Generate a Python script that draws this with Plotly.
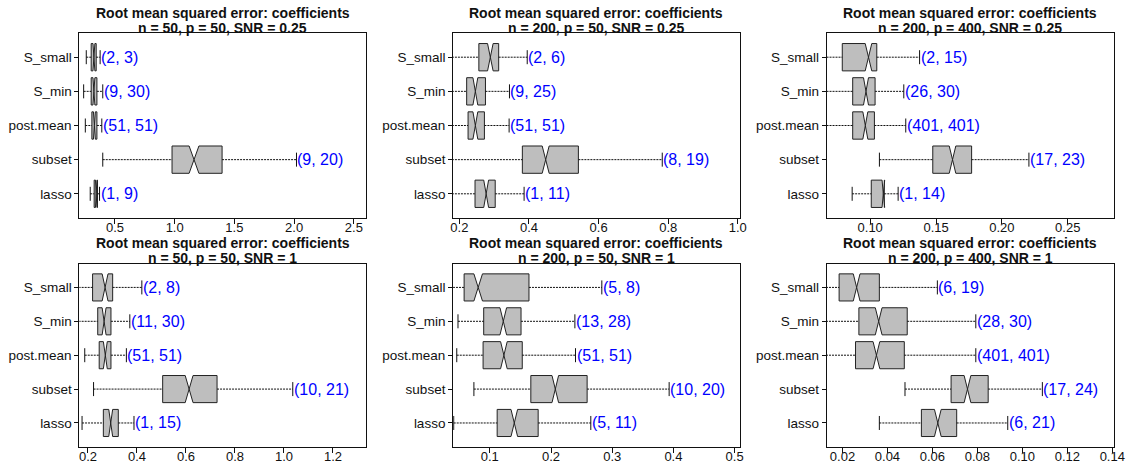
import plotly.graph_objects as go

# ---------------- data ----------------
categories = ["S_small", "S_min", "post.mean", "subset", "lasso"]   # top -> bottom

title_line1 = "Root mean squared error: coefficients"
subtitles = [
    "n = 50, p = 50, SNR = 0.25",
    "n = 200, p = 50, SNR = 0.25",
    "n = 200, p = 400, SNR = 0.25",
    "n = 50, p = 50, SNR = 1",
    "n = 200, p = 50, SNR = 1",
    "n = 200, p = 400, SNR = 1",
]

# Panel 1: n=50, p=50, SNR=0.25
p1_lower = [0.260, 0.238, 0.252, 0.398, 0.293]
p1_q1 = [0.301, 0.301, 0.307, 0.978, 0.326]
p1_median = [0.324, 0.324, 0.328, 1.162, 0.343]
p1_q3 = [0.343, 0.349, 0.349, 1.397, 0.354]
p1_upper = [0.376, 0.398, 0.390, 2.020, 0.371]
p1_notch = [0.008, 0.008, 0.008, 0.041, 0.006]
p1_labels = ["(2, 3)", "(9, 30)", "(51, 51)", "(9, 20)", "(1, 9)"]
p1_ticks = [0.5, 1.0, 1.5, 2.0, 2.5]
p1_ticklabels = ["0.5", "1.0", "1.5", "2.0", "2.5"]

# Panel 2: n=200, p=50, SNR=0.25
p2_lower = [0.170, 0.170, 0.170, 0.170, 0.170]
p2_q1 = [0.256, 0.221, 0.225, 0.381, 0.245]
p2_median = [0.289, 0.246, 0.246, 0.448, 0.277]
p2_q3 = [0.313, 0.275, 0.272, 0.542, 0.303]
p2_upper = [0.395, 0.344, 0.343, 0.783, 0.386]
p2_notch = [0.008, 0.007, 0.007, 0.010, 0.007]
p2_labels = ["(2, 6)", "(9, 25)", "(51, 51)", "(8, 19)", "(1, 11)"]
p2_ticks = [0.2, 0.4, 0.6, 0.8, 1.0]
p2_ticklabels = ["0.2", "0.4", "0.6", "0.8", "1.0"]

# Panel 3: n=200, p=400, SNR=0.25
p3_lower = [0.060, 0.060, 0.060, 0.107, 0.0863]
p3_q1 = [0.0788, 0.0867, 0.0867, 0.1475, 0.1008]
p3_median = [0.0987, 0.0968, 0.0963, 0.1625, 0.1100]
p3_q3 = [0.1050, 0.1037, 0.1032, 0.1770, 0.1107]
p3_upper = [0.1375, 0.1255, 0.1270, 0.2205, 0.1212]
p3_notch = [0.0025, 0.0019, 0.0019, 0.0025, 0.0010]
p3_labels = ["(2, 15)", "(26, 30)", "(401, 401)", "(17, 23)", "(1, 14)"]
p3_ticks = [0.10, 0.15, 0.20, 0.25]
p3_ticklabels = ["0.10", "0.15", "0.20", "0.25"]

# Panel 4: n=50, p=50, SNR=1
p4_lower = [0.150, 0.150, 0.187, 0.223, 0.176]
p4_q1 = [0.219, 0.240, 0.246, 0.505, 0.263]
p4_median = [0.270, 0.266, 0.271, 0.613, 0.293]
p4_q3 = [0.301, 0.294, 0.294, 0.727, 0.324]
p4_upper = [0.420, 0.371, 0.357, 1.036, 0.388]
p4_notch = [0.012, 0.008, 0.008, 0.016, 0.008]
p4_labels = ["(2, 8)", "(11, 30)", "(51, 51)", "(10, 21)", "(1, 15)"]
p4_ticks = [0.2, 0.4, 0.6, 0.8, 1.0, 1.2]
p4_ticklabels = ["0.2", "0.4", "0.6", "0.8", "1.0", "1.2"]

# Panel 5: n=200, p=50, SNR=1
p5_lower = [0.030, 0.048, 0.046, 0.074, 0.041]
p5_q1 = [0.058, 0.090, 0.089, 0.167, 0.112]
p5_median = [0.081, 0.122, 0.123, 0.207, 0.140]
p5_q3 = [0.164, 0.151, 0.153, 0.259, 0.179]
p5_upper = [0.283, 0.239, 0.240, 0.393, 0.265]
p5_notch = [0.0070, 0.0054, 0.0054, 0.0054, 0.0054]
p5_labels = ["(5, 8)", "(13, 28)", "(51, 51)", "(10, 20)", "(5, 11)"]
p5_ticks = [0.1, 0.2, 0.3, 0.4, 0.5]
p5_ticklabels = ["0.1", "0.2", "0.3", "0.4", "0.5"]

# Panel 6: n=200, p=400, SNR=1
p6_lower = [0.010, 0.010, 0.010, 0.0478, 0.0364]
p6_q1 = [0.0185, 0.0273, 0.0258, 0.0683, 0.0551]
p6_median = [0.0263, 0.0361, 0.0351, 0.0756, 0.0624]
p6_q3 = [0.0364, 0.0488, 0.0475, 0.0848, 0.0708]
p6_upper = [0.0622, 0.0793, 0.0793, 0.1089, 0.0935]
p6_notch = [0.0015, 0.0015, 0.0015, 0.0015, 0.0015]
p6_labels = ["(6, 19)", "(28, 30)", "(401, 401)", "(17, 24)", "(6, 21)"]
p6_ticks = [0.02, 0.04, 0.06, 0.08, 0.10, 0.12, 0.14]
p6_ticklabels = ["0.02", "0.04", "0.06", "0.08", "0.10", "0.12", "0.14"]

# ---------------- layout geometry ----------------
W, H = 1138, 464
x_ranges = [[0.202, 2.60], [0.182, 1.005], [0.067, 0.285],
            [0.165, 1.334], [0.040, 0.508], [0.013, 0.1407]]
col_px = [(77.3, 367.3), (455.7, 745.7), (834.0, 1124.7)]
row_px = [(33.3, 217.7), (263.7, 446.7)]

panels = [
    (p1_lower, p1_q1, p1_median, p1_q3, p1_upper, p1_notch, p1_labels, p1_ticks, p1_ticklabels),
    (p2_lower, p2_q1, p2_median, p2_q3, p2_upper, p2_notch, p2_labels, p2_ticks, p2_ticklabels),
    (p3_lower, p3_q1, p3_median, p3_q3, p3_upper, p3_notch, p3_labels, p3_ticks, p3_ticklabels),
    (p4_lower, p4_q1, p4_median, p4_q3, p4_upper, p4_notch, p4_labels, p4_ticks, p4_ticklabels),
    (p5_lower, p5_q1, p5_median, p5_q3, p5_upper, p5_notch, p5_labels, p5_ticks, p5_ticklabels),
    (p6_lower, p6_q1, p6_median, p6_q3, p6_upper, p6_notch, p6_labels, p6_ticks, p6_ticklabels),
]

FONT = "Liberation Sans, Arial, Helvetica, sans-serif"
fig = go.Figure()
annotations = []
layout_axes = {}

for i, (lo, q1, med, q3, up, notch, labels, ticks, ticklabels) in enumerate(panels):
    r, c = divmod(i, 3)
    n = i + 1
    xa = "x" if n == 1 else f"x{n}"
    ya = "y" if n == 1 else f"y{n}"
    xkey = "xaxis" if n == 1 else f"xaxis{n}"
    ykey = "yaxis" if n == 1 else f"yaxis{n}"

    # whiskers (dotted)
    wx, wy = [], []
    for k, cat in enumerate(categories):
        wx += [lo[k], q1[k], None, q3[k], up[k], None]
        wy += [cat, cat, None, cat, cat, None]
    fig.add_trace(go.Scatter(x=wx, y=wy, mode="lines", xaxis=xa, yaxis=ya,
                             line=dict(color="#111111", width=1, dash="2px,1px"),
                             hoverinfo="skip", showlegend=False))
    # staples
    fig.add_trace(go.Scatter(x=lo + up, y=categories + categories, mode="markers",
                             xaxis=xa, yaxis=ya,
                             marker=dict(symbol="line-ns", size=10,
                                         line=dict(color="#111111", width=1)),
                             hoverinfo="skip", showlegend=False))
    # notched boxes
    fig.add_trace(go.Box(y=categories, q1=q1, median=med, q3=q3,
                         lowerfence=q1, upperfence=q3, notchspan=notch,
                         notched=True, notchwidth=0.5, width=0.8, whiskerwidth=0,
                         orientation="h", boxpoints=False,
                         fillcolor="#bebebe", line=dict(color="#222222", width=1),
                         xaxis=xa, yaxis=ya, hoverinfo="skip", showlegend=False))

    for k, cat in enumerate(categories):
        annotations.append(dict(x=up[k], y=cat, xref=xa, yref=ya, text=labels[k],
                                showarrow=False, xanchor="left", yanchor="middle",
                                xshift=-1, font=dict(family=FONT, size=16, color="#0000ff")))

    x0, x1 = col_px[c]
    y0, y1 = row_px[r]
    layout_axes[xkey] = dict(domain=[x0 / W, x1 / W], range=x_ranges[i], anchor=ya,
                             tickmode="array", tickvals=ticks, ticktext=ticklabels,
                             ticks="outside", ticklen=5, tickcolor="#111111",
                             ticklabelstandoff=-7,
                             showline=True, mirror=True, linecolor="#111111", linewidth=1,
                             showgrid=False, zeroline=False,
                             tickfont=dict(family=FONT, size=13, color="#111111"))
    layout_axes[ykey] = dict(domain=[1 - y1 / H, 1 - y0 / H], anchor=xa,
                             type="category", categoryorder="array",
                             categoryarray=categories[::-1], range=[-0.7, 4.7],
                             ticks="outside", ticklen=4, tickcolor="#111111",
                             showline=True, mirror=True, linecolor="#111111", linewidth=1,
                             showgrid=False, zeroline=False,
                             tickfont=dict(family=FONT, size=13.5, color="#111111"))

    xc = (x0 + x1) / 2 / W
    annotations.append(dict(x=xc, y=1 - (y0 - 20.8) / H, xref="paper", yref="paper",
                            text=f"<b>{title_line1}</b>", showarrow=False,
                            xanchor="center", yanchor="middle",
                            font=dict(family=FONT, size=14, color="#111111")))
    annotations.append(dict(x=xc, y=1 - (y0 - 5.3) / H, xref="paper", yref="paper",
                            text=f"<b>{subtitles[i]}</b>", showarrow=False,
                            xanchor="center", yanchor="middle",
                            font=dict(family=FONT, size=14, color="#111111")))

fig.update_layout(width=W, height=H, margin=dict(l=0, r=0, t=0, b=0),
                  paper_bgcolor="white", plot_bgcolor="white",
                  annotations=annotations, showlegend=False, **layout_axes)

fig.write_html("out.html", config={"displayModeBar": False},
               post_script="document.body.style.margin='0';document.body.style.padding='0';")
